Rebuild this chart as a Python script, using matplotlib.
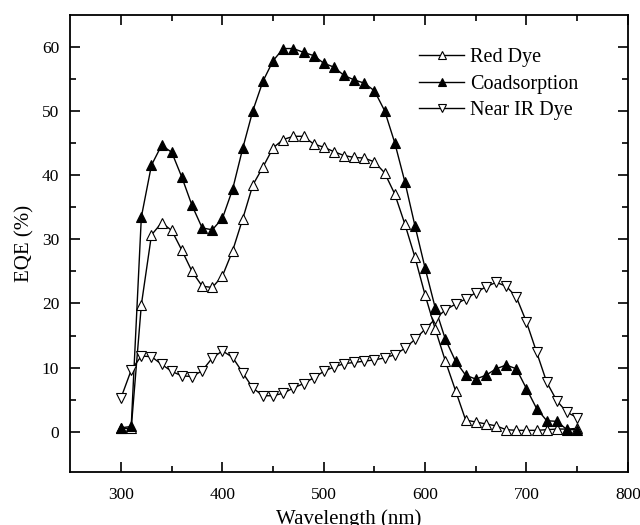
import matplotlib
matplotlib.use("Agg")
import matplotlib.pyplot as plt
import numpy as np

plt.rcParams['font.family'] = ['Liberation Serif', 'DejaVu Serif']

wavelength = np.arange(300, 760, 10)  # nm, 300..750

red_dye = [0.5, 0.5, 19.8, 30.7, 32.6, 31.4, 28.3, 25.0, 22.7, 22.5,
           24.3, 28.2, 33.2, 38.5, 41.3, 44.3, 45.6, 46.1, 46.1, 44.9,
           44.4, 43.7, 43.1, 42.8, 42.7, 42.1, 40.4, 37.1, 32.4, 27.2,
           21.3, 16.0, 11.0, 6.4, 1.8, 1.5, 1.2, 0.9, 0.3, 0.2,
           0.2, 0.2, 0.3, 0.4, 0.4, 0.5]

coadsorption = [0.6, 0.8, 33.5, 41.6, 44.7, 43.6, 39.7, 35.3, 31.8, 31.5,
                33.3, 37.8, 44.2, 50.1, 54.7, 57.9, 59.8, 59.8, 59.2, 58.7,
                57.5, 56.9, 55.6, 54.9, 54.4, 53.2, 50.1, 45.1, 39.0, 32.1,
                25.5, 19.3, 14.4, 11.0, 8.8, 8.2, 8.8, 9.8, 10.4, 9.8,
                6.7, 3.6, 1.7, 1.6, 0.3, 0.3]

near_ir = [5.3, 9.6, 11.8, 11.7, 10.5, 9.4, 8.7, 8.6, 9.5, 11.5,
           12.6, 11.6, 9.2, 6.8, 5.6, 5.6, 6.0, 6.8, 7.5, 8.4,
           9.4, 10.1, 10.6, 10.8, 11.0, 11.2, 11.5, 12.0, 13.0, 14.4,
           16.0, 17.6, 19.0, 19.9, 20.7, 21.7, 22.6, 23.3, 22.7, 21.0,
           17.1, 12.4, 7.7, 4.8, 3.0, 2.2]

fig = plt.figure(figsize=(6.4, 5.25), dpi=100)
ax = fig.add_axes([0.11, 0.101, 0.871, 0.870])

style = dict(color="black", linewidth=1, markersize=7.5, markeredgewidth=0.8)
ax.plot(wavelength, red_dye, marker="^", mfc="white", mec="black", label="Red Dye", **style)
ax.plot(wavelength, coadsorption, marker="^", mfc="black", mec="black", label="Coadsorption", **style)
ax.plot(wavelength, near_ir, marker="v", mfc="white", mec="black", label="Near IR Dye", **style)

ax.set_xlim(250, 800)
ax.set_ylim(-6.3, 65)
ax.set_xticks([300, 400, 500, 600, 700, 800])
ax.set_xticks([350, 450, 550, 650, 750], minor=True)
ax.set_yticks([0, 10, 20, 30, 40, 50, 60])
ax.set_yticks([5, 15, 25, 35, 45, 55], minor=True)

ax.tick_params(which="both", direction="in", top=True, right=True, labelsize=12.5, width=1.2)
ax.tick_params(which="major", length=7)
ax.tick_params(which="minor", length=4)
ax.tick_params(axis="x", pad=11)
ax.tick_params(axis="y", pad=8)
for s in ax.spines.values():
    s.set_linewidth(1.3)

# reference label sits partly below the bottom edge too
ax.set_xlabel("Wavelength (nm)", fontsize=15, labelpad=4)
ax.set_ylabel("EQE (%)", fontsize=15, labelpad=5)

ax.legend(loc="upper right", bbox_to_anchor=(0.925, 0.945), frameon=False, fontsize=14.5,
          handlelength=2.2, handletextpad=0.3, labelspacing=0.35, markerscale=0.8,
          borderaxespad=0)

fig.savefig("out.png", dpi=100)
